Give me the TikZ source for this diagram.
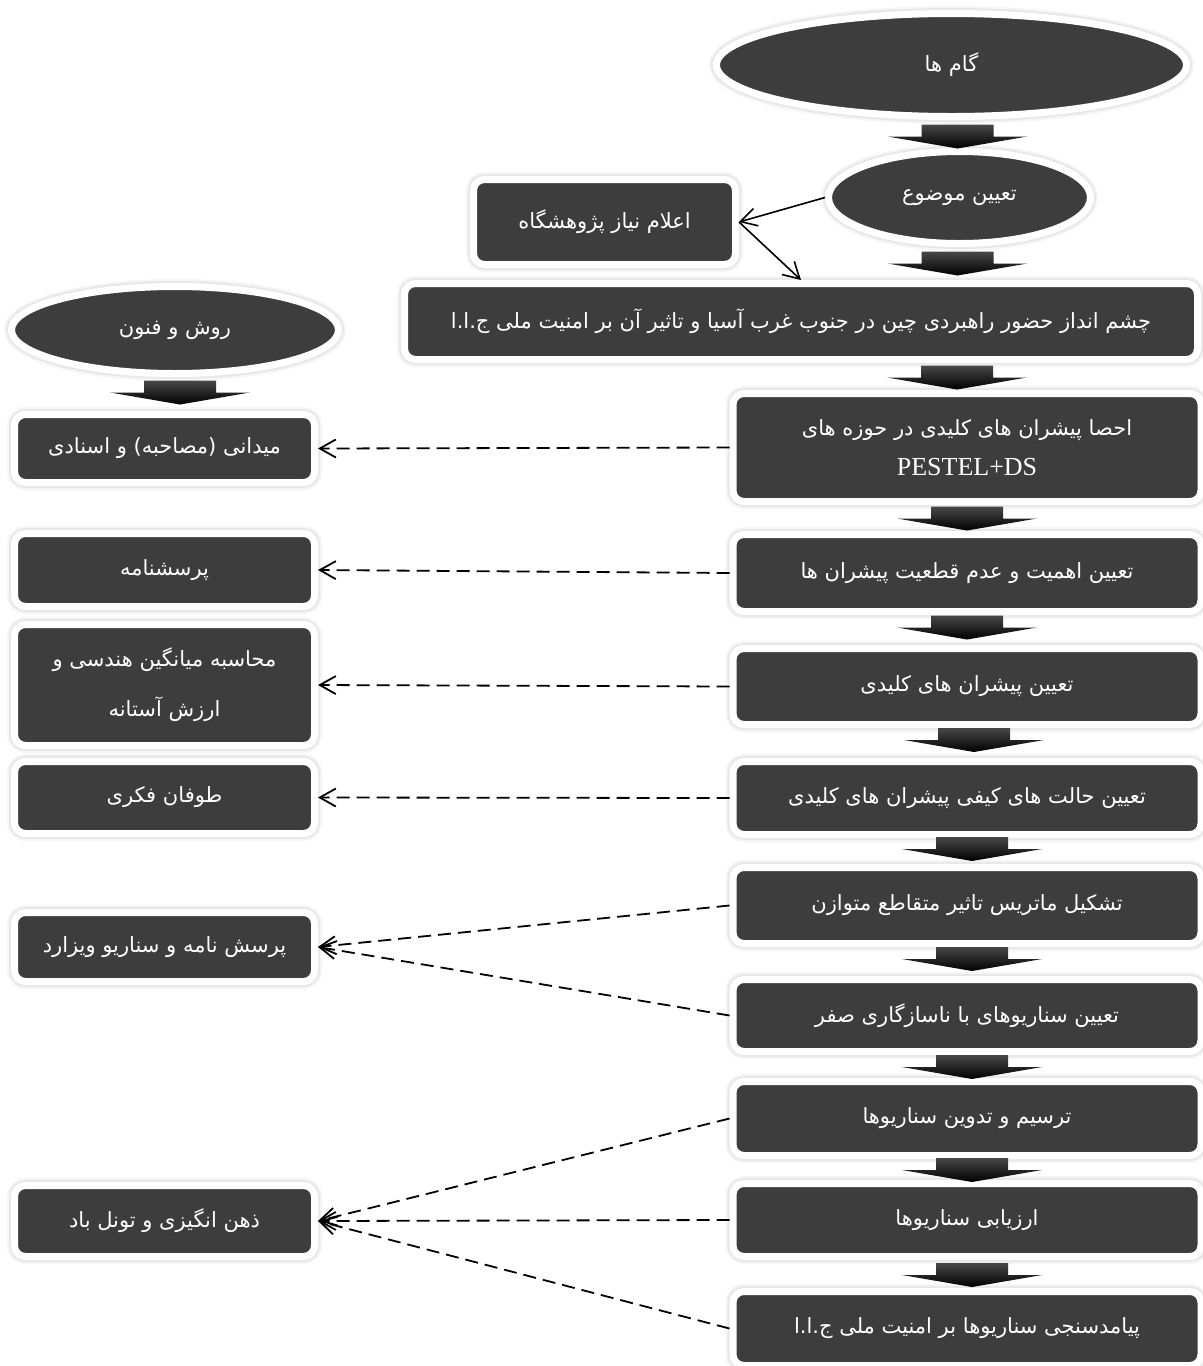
\documentclass[tikz,border=0pt]{standalone}
\usepackage{fontspec}
\setmainfont{Liberation Serif}
\newfontfamily\fa[Script=Arabic]{DejaVu Sans}
\usetikzlibrary{calc,arrows.meta,shapes.geometric}
\TeXXeTstate=1
\definecolor{boxfill}{HTML}{3D3D3D}
\newcommand\fat[1]{{\fa\beginR #1\endR}}
% block arrow: [x offset]{node}{y offset}
\newcommand\barrow[3][0]{%
  \path[blockarr] ($(#2.south)+(#1-36,#3)$) -- ++(72,0) -- ++(0,12) -- ++(34,0)
     -- ++(-70,12) -- ++(-70,-12) -- ++(34,0) -- cycle;}
\begin{document}
\begin{tikzpicture}[x=0.5pt,y=-0.5pt,
  base/.style={fill=boxfill, draw=white, line width=3.5pt,
     preaction={draw=black!4, line width=7.5pt},
     preaction={draw=black!9, line width=5.5pt},
     text=white, font=\fa\fontsize{10.5}{22}\selectfont, inner sep=0pt, align=center},
  rbox/.style={base, rectangle, rounded corners=5.5pt},
  ell/.style={base, ellipse},
  rcol/.style={rbox, minimum width=234pt},
  lcol/.style={rbox, minimum width=150pt},
  blockarr/.style={top color=black!72, bottom color=black, draw=none},
  dline/.style={draw=black, line width=0.9pt, dash pattern=on 6.5pt off 3.5pt,
     -{Straight Barb[length=8pt,width=9pt]}},
  sline/.style={draw=black, line width=0.8pt,
     -{Straight Barb[length=8pt,width=9pt]}}]
\path[fill=white] (0,0) rectangle (1203,1366);
\useasboundingbox (0,0) rectangle (1203,1366);

% right column
\node[ell, minimum width=235pt, minimum height=51.5pt] (e1) at (951.5,65) {\fat{گام ها}};
\node[ell, minimum width=131pt, minimum height=46pt] (e2) at (959.5,197.5) {\fat{تعیین موضوع}};
\node[rbox, minimum width=131pt, minimum height=42.5pt] (b0) at (604.5,222) {\fat{اعلام نیاز پژوهشگاه}};
\node[rbox, minimum width=396.5pt, minimum height=38pt] (big) at (801,321.5)
  {\fat{چشم انداز حضور راهبردی چین در جنوب غرب آسیا و تاثیر آن بر امنیت ملی ج.ا.ا}};
\node[rcol, minimum height=54pt] (s1) at (967,447.5)
  {\raisebox{-3pt}{\fat{احصا پیشران های کلیدی در حوزه های}}\\[1pt] {\rmfamily\fontsize{13}{16}\selectfont PESTEL+DS}};
\node[rcol, minimum height=38.5pt] (s2) at (967,573) {\fat{تعیین اهمیت و عدم قطعیت پیشران ها}};
\node[rcol, minimum height=38pt] (s3) at (967,686.5) {\fat{تعیین پیشران های کلیدی}};
\node[rcol, minimum height=36.5pt] (s4) at (967,798) {\fat{تعیین حالت های کیفی پیشران های کلیدی}};
\node[rcol, minimum height=38pt] (s5) at (967,905.5) {\fat{تشکیل ماتریس تاثیر متقاطع متوازن}};
\node[rcol, minimum height=36pt] (s6) at (967,1015.5) {\fat{تعیین سناریوهای با ناسازگاری صفر}};
\node[rcol, minimum height=37pt] (s7) at (967,1118.5) {\fat{ترسیم و تدوین سناریوها}};
\node[rcol, minimum height=36.5pt] (s8) at (967,1220) {\fat{ارزیابی سناریوها}};
\node[rcol, minimum height=37pt] (s9) at (967,1328.5) {\fat{پیامدسنجی سناریوها بر امنیت ملی ج.ا.ا}};

% left column
\node[ell, minimum width=163.5pt, minimum height=43.5pt] (L0) at (175,330) {\fat{روش و فنون}};
\node[lcol, minimum height=34pt] (l1) at (164.5,448.5) {\fat{میدانی (مصاحبه) و اسنادی}};
\node[lcol, minimum height=36.5pt] (l2) at (164.5,570) {\fat{پرسشنامه}};
\node[lcol, minimum height=60.5pt] (l3) at (164.5,685) {\fat{محاسبه میانگین هندسی و}\\[3pt]\fat{ارزش آستانه}};
\node[lcol, minimum height=36pt] (l4) at (164.5,797.5) {\fat{طوفان فکری}};
\node[lcol, minimum height=34.5pt] (l5) at (164.5,947) {\fat{پرسش نامه و سناریو ویزارد}};
\node[lcol, minimum height=35.5pt] (l6) at (164.5,1221) {\fat{ذهن انگیزی و تونل باد}};

% block arrows
\barrow[6]{e1}{4.5}
\barrow[-2]{e2}{4.5}
\barrow[156]{big}{2.5}
\barrow[0]{s1}{1.5}
\barrow[0]{s2}{0.5}
\barrow[7]{s3}{0}
\barrow[5]{s4}{-1}
\barrow[5]{s5}{0}
\barrow[5]{s6}{0}
\barrow[5]{s7}{-1}
\barrow[5]{s8}{3}
\barrow[5]{L0}{3.5}

% solid connectors
\draw[sline] (e2.west) -- (b0.east);
\draw[sline] (b0.east) -- (big.north);

% dashed connectors
\draw[dline] (s1.west) -- (l1.east);
\draw[dline] (s2.west) -- (l2.east);
\draw[dline] (s3.west) -- (l3.east);
\draw[dline] (s4.west) -- (l4.east);
\draw[dline] (s5.west) -- (l5.east);
\draw[dline] (s6.west) -- (l5.east);
\draw[dline] (s7.west) -- (l6.east);
\draw[dline] (s8.west) -- (l6.east);
\draw[dline] (s9.west) -- (l6.east);
\end{tikzpicture}
\end{document}
